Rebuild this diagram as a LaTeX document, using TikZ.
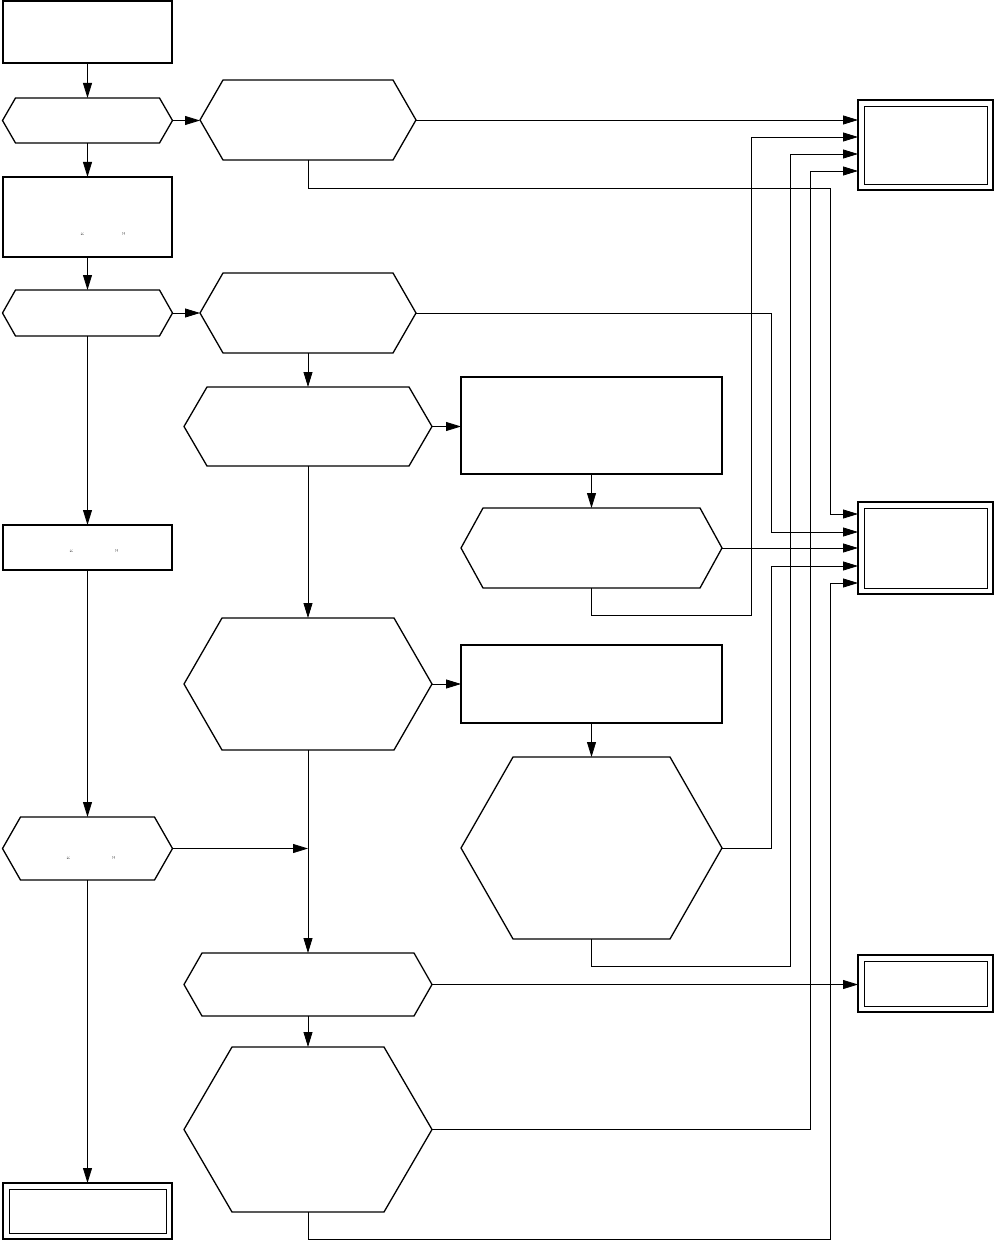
\documentclass[tikz,border=0pt]{standalone}
\usetikzlibrary{arrows.meta}
\usetikzlibrary{calc}

\begin{document}
\begin{tikzpicture}[x=1pt,y=-1pt,
    frame/.style={draw, line width=1.3pt, inner sep=0pt, outer sep=0pt},
    hexnode/.style={inner sep=0pt, outer sep=0pt},
    hexline/.style={line width=1.3pt, line join=miter},
    endbox/.style={draw, line width=2pt, inner sep=0pt, outer sep=0pt},
    innerline/.style={line width=0.9pt},
    arr/.style={line width=0.8pt, -{Triangle[length=15pt,width=9pt]}},
    quote/.style={inner sep=0pt, font=\fontsize{8}{9}\selectfont}]
      \useasboundingbox (0,0) rectangle (996,1241);
      % left column
      \node[frame, minimum width=169, minimum height=62] (start) at (87.5,32) {};
      \node[hexnode, minimum width=170, minimum height=45] (A) at (87.5,120.5) {};
      \node[frame, minimum width=169, minimum height=80] (rect2) at (87.5,217) {};
      \node[hexnode, minimum width=170, minimum height=46] (C) at (87.5,313) {};
      \node[frame, minimum width=169, minimum height=45] (H) at (87.5,547.5) {};
      \node[hexnode, minimum width=170, minimum height=63] (L) at (87.5,848.5) {};
      \node[endbox, minimum width=169, minimum height=56] (fin) at (87.5,1211) {};
      % middle column
      \node[hexnode, minimum width=216, minimum height=80] (B) at (308,120) {};
      \node[hexnode, minimum width=216, minimum height=80] (D) at (308,313) {};
      \node[hexnode, minimum width=248, minimum height=79] (E) at (308,426.5) {};
      \node[hexnode, minimum width=248, minimum height=132] (I) at (308,684) {};
      \node[hexnode, minimum width=248, minimum height=63] (M) at (308,984.5) {};
      \node[hexnode, minimum width=248, minimum height=165] (N) at (308,1129.5) {};
      % right column
      \node[frame, minimum width=261, minimum height=97] (F) at (591.5,425.5) {};
      \node[hexnode, minimum width=261, minimum height=80] (G) at (591.5,548) {};
      \node[frame, minimum width=261, minimum height=78] (J) at (591.5,684) {};
      \node[hexnode, minimum width=261, minimum height=182] (K) at (591.5,848) {};
      % results
      \node[endbox, minimum width=135, minimum height=90] (R1) at (925.5,145) {};
      \node[endbox, minimum width=135, minimum height=92] (R2) at (925.5,548) {};
      \node[endbox, minimum width=135, minimum height=57] (R3) at (925.5,983.5) {};
      \foreach \n/\c in {A/13,B/23,C/13,D/23,E/23,G/22,I/38,K/52,L/18,M/18,N/48}
        \draw[hexline] (\n.west) -- ([xshift=\c]\n.north west) -- ([xshift=-\c]\n.north east)
          -- (\n.east) -- ([xshift=-\c]\n.south east) -- ([xshift=\c]\n.south west) -- cycle;
      \foreach \n in {R1,R2,R3,fin}
        \draw[innerline] ([shift={(6pt,-6pt)}]\n.north west) rectangle ([shift={(-6pt,6pt)}]\n.south east);
      % texts
      \node[quote] (q2) at (103,236) {``\hspace{37pt}''};
      \node[quote] (qH) at (94,553) {``\hspace{41pt}''};
      \node[quote] (qL) at (91,860) {``\hspace{41pt}''};
      % entry points on the results
      \coordinate (r1b) at (858,137);
      \coordinate (r1c) at (858,154);
      \coordinate (r1d) at (858,171);
      \coordinate (r2a) at (858,514);
      \coordinate (r2b) at (858,532);
      \coordinate (r2d) at (858,566);
      \coordinate (r2e) at (858,583);
      % main flow
      \draw[arr] (start.south) -- (A.north);
      \draw[arr] (A.east) -- (A.east -| B.west);
      \draw[arr] (A.south) -- (rect2.north);
      \draw[arr] (rect2.south) -- (C.north);
      \draw[arr] (C.east) -- (D.west);
      \draw[arr] (C.south) -- (H.north);
      \draw[arr] (H.south) -- (L.north);
      \draw[arr] (L.south) -- (fin.north);
      \draw[arr] (L.east) -- (L.east -| I.south);
      \draw[arr] (D.south) -- (E.north);
      \draw[arr] (E.south) -- (I.north);
      \draw[arr] (E.east) -- (E.east -| F.west);
      \draw[arr] (F.south) -- (G.north);
      \draw[arr] (I.east) -- (J.west);
      \draw[arr] (J.south) -- (K.north);
      \draw[arr] (I.south) -- (M.north);
      \draw[arr] (M.south) -- (N.north);
      \draw[arr] (M.east) -- (M.east -| R3.west);
      % to the results
      \draw[arr] (B.east) -- (B.east -| R1.west);
      \draw[arr] (G.south) |- (751,615) |- (r1b);
      \draw[arr] (K.south) |- (790,966) |- (r1c);
      \draw[arr] (N.east) -| (810,171) -- (r1d);
      \draw[arr] (B.south) |- (830,188) |- (r2a);
      \draw[arr] (D.east) -| (771,532) -- (r2b);
      \draw[arr] (G.east) -- (R2.west);
      \draw[arr] (K.east) -| (771,566) -- (r2d);
      \draw[arr] (N.south) |- (830,1239) |- (r2e);
\end{tikzpicture}
\end{document}
